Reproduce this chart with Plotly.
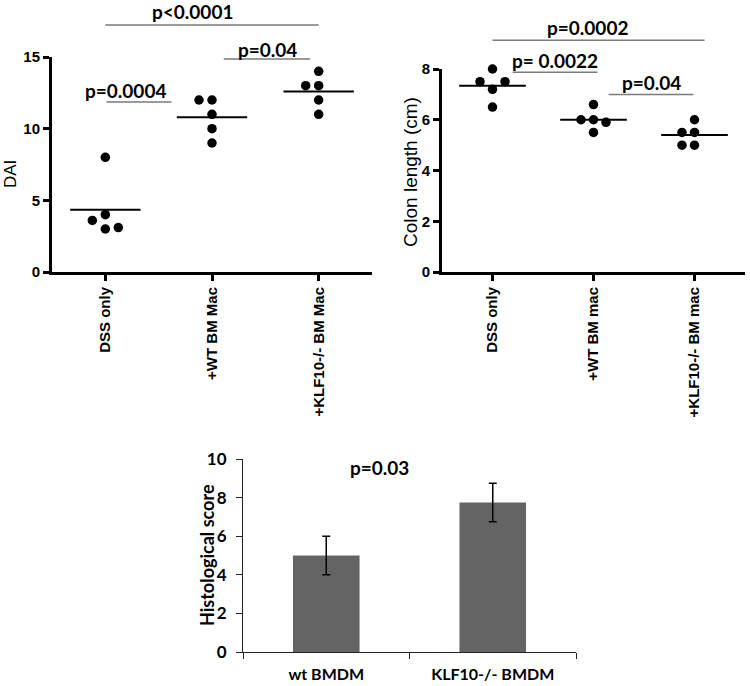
import numpy as np
import plotly.graph_objects as go

# ---------------- data ----------------
dai_groups = ["DSS only", "+WT BM Mac", "+KLF10-/- BM Mac"]
dai_dss = [8, 4, 3.6, 3, 3.1]
dai_wt = [12, 12, 11, 10, 9]
dai_klf = [14, 13, 13, 12, 11]
dai_ticks = [0, 5, 10, 15]

colon_groups = ["DSS only", "+WT BM mac", "+KLF10-/- BM mac"]
colon_dss = [8, 7.2, 7.5, 7.5, 6.5]
colon_wt = [6.6, 6.0, 5.5, 6.0, 5.9]
colon_klf = [6.0, 5.5, 5.0, 5.5, 5.0]
colon_ticks = [0, 2, 4, 6, 8]

hist_groups = ["wt BMDM", "KLF10-/- BMDM"]
hist_score = [5.0, 7.75]
hist_err = [1.0, 1.0]
hist_ticks = [0, 2, 4, 6, 8, 10]

# p-value brackets: label, x from, x to, bracket level, label x, label y
dai_p_labels = ["p<0.0001", "p=0.0004", "p=0.04"]
dai_p_x0 = [0.0, 0.01, 1.11]
dai_p_x1 = [2.0, 0.62, 1.92]
dai_p_level = [17.24, 11.86, 14.86]
dai_p_tx = [0.82, 0.19, 1.52]
dai_p_ty = [18.2, 12.65, 15.55]

colon_p_labels = ["p=0.0002", "p= 0.0022", "p=0.04"]
colon_p_x0 = [0.0, 0.2, 1.15]
colon_p_x1 = [2.1, 1.04, 1.99]
colon_p_level = [9.13, 7.87, 7.0]
colon_p_tx = [0.94, 0.62, 1.57]
colon_p_ty = [9.62, 8.32, 7.45]

hist_p_label = "p=0.03"
hist_p_tx = 0.32
hist_p_ty = 8.85

# ---------------- layout geometry ----------------
W, H = 750, 686
x1_dom = [52 / W, 372 / W]
y1_dom = [(H - 272) / H, (H - 57) / H]
x2_dom = [442 / W, 745 / W]
y2_dom = [(H - 272) / H, (H - 69) / H]
x3_dom = [243 / W, 576 / W]
y3_dom = [(H - 652) / H, (H - 459) / H]
cat_range = [-0.5, 2.5]
bar_range = [-0.5, 1.5]
AXW = 3.0

ARIAL = "Liberation Sans, Arial, sans-serif"
CAL = "Lato, Carlito, Calibri, sans-serif"
INK = "#000000"


def to_paper(dom, rng, v):
    return dom[0] + (v - rng[0]) / (rng[1] - rng[0]) * (dom[1] - dom[0])


def swarm(values, px_x, px_y, diam=9.0, step=12.5):
    placed, offs = [], []
    cands = [0]
    for j in range(1, 6):
        cands += [-j, j]
    for v in values:
        ox = 0
        for c in cands:
            ox = c * step
            if all((ox - px) ** 2 + ((v - pv) * px_y) ** 2 >= diam ** 2 for px, pv in placed):
                break
        placed.append((ox, v))
        offs.append(ox / px_x)
    return offs


fig = go.Figure()


def dot_panel(series, xa, ya, xdom, ydom, yrng):
    px_x = (xdom[1] - xdom[0]) * W / (cat_range[1] - cat_range[0])
    px_y = (ydom[1] - ydom[0]) * H / (yrng[1] - yrng[0])
    for i, vals in enumerate(series):
        offs = swarm(vals, px_x, px_y, step=12.5 if px_x < 104 else 13)
        fig.add_trace(go.Scatter(
            x=[i + o for o in offs], y=vals, mode="markers",
            marker=dict(size=9.5, color=INK), xaxis=xa, yaxis=ya,
            showlegend=False, cliponaxis=False))
        m = float(np.mean(vals))
        fig.add_trace(go.Scatter(
            x=[i - 0.33, i + 0.33], y=[m, m], mode="lines",
            line=dict(color=INK, width=2), xaxis=xa, yaxis=ya,
            showlegend=False))


dot_panel([dai_dss, dai_wt, dai_klf], "x", "y", x1_dom, y1_dom, [0, 15])
dot_panel([colon_dss, colon_wt, colon_klf], "x2", "y2", x2_dom, y2_dom, [0, 8])

fig.add_trace(go.Bar(
    x=hist_groups, y=hist_score, width=0.4, marker=dict(color="#646464", line=dict(width=0)),
    error_y=dict(type="data", array=hist_err, color=INK, thickness=1.5, width=4),
    xaxis="x3", yaxis="y3", showlegend=False))

shapes, annos = [], []


def brackets(labels, x0s, x1s, lv, tx, ty, xdom, ydom, yrng):
    for lab, a, b, l, u, v in zip(labels, x0s, x1s, lv, tx, ty):
        yp = to_paper(ydom, yrng, l)
        shapes.append(dict(type="line", xref="paper", yref="paper",
                           x0=to_paper(xdom, cat_range, a), x1=to_paper(xdom, cat_range, b),
                           y0=yp, y1=yp, line=dict(color="#7a7a7a", width=1.5)))
        annos.append(dict(xref="paper", yref="paper",
                          x=to_paper(xdom, cat_range, u), y=to_paper(ydom, yrng, v),
                          text=lab, showarrow=False, xanchor="center", yanchor="middle",
                          font=dict(family=CAL, size=19, color=INK, weight="bold")))


brackets(dai_p_labels, dai_p_x0, dai_p_x1, dai_p_level, dai_p_tx, dai_p_ty, x1_dom, y1_dom, [0, 15])
brackets(colon_p_labels, colon_p_x0, colon_p_x1, colon_p_level, colon_p_tx, colon_p_ty, x2_dom, y2_dom, [0, 8])

annos.append(dict(xref="paper", yref="paper", x=to_paper(x3_dom, bar_range, hist_p_tx),
                  y=to_paper(y3_dom, [0, 10], hist_p_ty), text=hist_p_label, showarrow=False,
                  font=dict(family=CAL, size=19, color=INK, weight="bold")))

# axis titles
annos.append(dict(xref="paper", yref="paper", x=10 / W, y=(H - 174) / H, text="DAI",
                  textangle=-90, showarrow=False, xanchor="center", yanchor="middle",
                  font=dict(family=ARIAL, size=17, color=INK)))
annos.append(dict(xref="paper", yref="paper", x=410 / W, y=(H - 172) / H, text="Colon length (cm)",
                  textangle=-90, showarrow=False, xanchor="center", yanchor="middle",
                  font=dict(family=ARIAL, size=19, color=INK)))
annos.append(dict(xref="paper", yref="paper", x=207 / W, y=(H - 555) / H, text="Histological score",
                  textangle=-90, showarrow=False, xanchor="center", yanchor="middle",
                  font=dict(family=CAL, size=18, color=INK, weight="bold")))

tick_font = dict(family=ARIAL, size=15, color=INK, weight="bold")
common_dot_x = dict(range=cat_range, tickmode="array", tickvals=[0, 1, 2], tickangle=-90,
                    showline=True, linewidth=AXW, linecolor=INK, ticks="outside", ticklen=6,
                    tickwidth=2.5, tickcolor=INK, showgrid=False, zeroline=False,
                    tickfont=tick_font, automargin=False)
common_dot_y = dict(showline=True, linewidth=AXW, linecolor=INK, ticks="outside", ticklen=6,
                    tickwidth=2.5, tickcolor=INK, showgrid=False, zeroline=False,
                    tickfont=tick_font, tickmode="array", automargin=False)

fig.update_layout(
    template="none",
    width=W, height=H, margin=dict(l=0, r=0, t=0, b=0, pad=0, autoexpand=False),
    paper_bgcolor="white", plot_bgcolor="white", showlegend=False,
    xaxis=dict(domain=x1_dom, ticktext=dai_groups, anchor="y", **common_dot_x),
    yaxis=dict(domain=y1_dom, range=[0, 15], tickvals=dai_ticks, anchor="x", **common_dot_y),
    xaxis2=dict(domain=x2_dom, ticktext=colon_groups, anchor="y2", **common_dot_x),
    yaxis2=dict(domain=y2_dom, range=[0, 8], tickvals=colon_ticks, anchor="x2", **common_dot_y),
    xaxis3=dict(domain=x3_dom, range=bar_range, type="category", anchor="y3",
                tickson="boundaries", showline=True, linewidth=1.2, linecolor="#222",
                ticks="outside", ticklen=6, tickwidth=1.2, tickcolor="#222",
                showgrid=False, zeroline=False, ticklabelstandoff=8, automargin=False,
                tickfont=dict(family=CAL, size=16, color=INK, weight="bold")),
    yaxis3=dict(domain=y3_dom, range=[0, 10], tickmode="array", tickvals=hist_ticks, anchor="x3",
                showline=True, linewidth=1.2, linecolor="#222", ticks="outside", ticklen=6,
                tickwidth=1.2, tickcolor="#222", showgrid=False, zeroline=False,
                ticklabelstandoff=6, automargin=False,
                tickfont=dict(family=CAL, size=17, color=INK, weight="bold")),
    shapes=shapes, annotations=annos,
)

fig.write_html("out.html", config={"displayModeBar": False},
               post_script="document.body.style.margin='0';")
